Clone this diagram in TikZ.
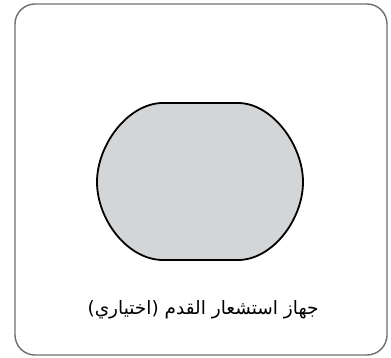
\documentclass[tikz,border=0pt]{standalone}
\usepackage{fontspec}
\usepackage{xcolor}
\TeXXeTstate=1
\newfontfamily\arabicfont[Script=Arabic]{DejaVu Sans}
\definecolor{framegray}{RGB}{110,110,110}
\definecolor{padgray}{RGB}{212,213,215}

\begin{document}
\begin{tikzpicture}[
    x=1pt,y=-1pt,
    frame/.style={draw=framegray,line width=1.4pt,rounded corners=20pt},
    pad/.style={draw=black,fill=padgray,line width=1.8pt},
    caption/.style={font=\arabicfont\fontsize{18.5}{20}\selectfont,inner sep=0pt}
  ]
    \useasboundingbox (0,0) rectangle (391,358);
    \draw[frame] (15,4) rectangle (387,355);

    % sensor pad
    \draw[pad] (163,103) -- (238,103)
      .. controls (272,103) and (303,145) .. (303,182)
      .. controls (303,220) and (272,260) .. (238,260)
      -- (163,260)
      .. controls (128,260) and (97,220) .. (97,182)
      .. controls (97,145) and (128,103) .. (163,103) -- cycle;

    \node[caption] (label) at (203,310) {\beginR جهاز استشعار القدم (اختياري)\endR};
  \end{tikzpicture}
\end{document}
